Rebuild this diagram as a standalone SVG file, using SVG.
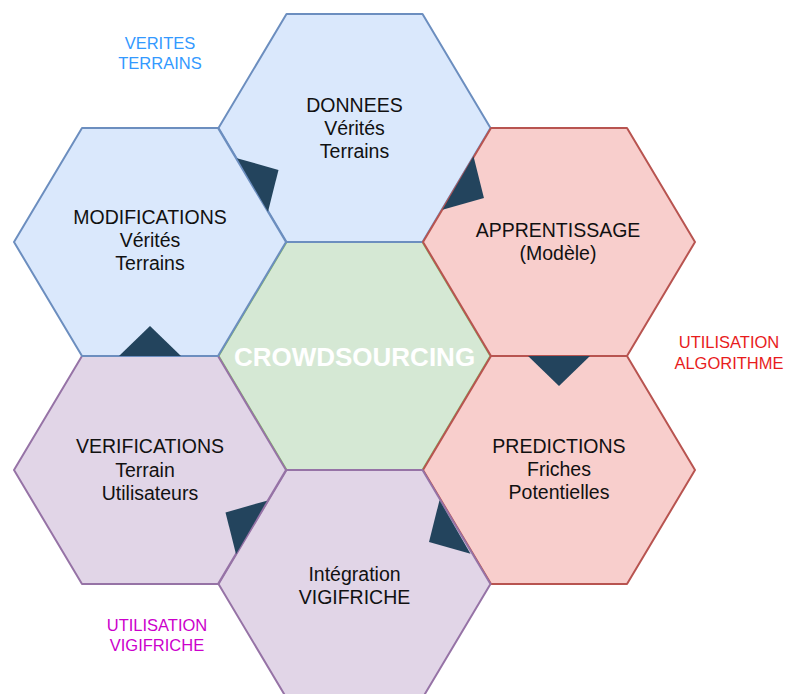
<svg xmlns="http://www.w3.org/2000/svg" width="787" height="694" viewBox="0 0 787 694">
  <style>
    .hex { stroke-width: 2; stroke-linejoin: round; }
    .blue { fill: #dae8fc; stroke: #6c8ebf; }
    .red { fill: #f8cecc; stroke: #b85450; }
    .green { fill: #d5e8d4; stroke: #82b366; }
    .purple { fill: #e1d5e7; stroke: #9673a6; }
    .lbl { font-family: "Liberation Sans", Arial, sans-serif; font-size: 19.5px; fill: #111; text-anchor: middle; }
    .core { font-family: "Liberation Sans", Arial, sans-serif; font-size: 26px; font-weight: bold; fill: #ffffff; text-anchor: middle; }
    .note { font-family: "Liberation Sans", Arial, sans-serif; font-size: 16.5px; text-anchor: middle; }
    .arrow { fill: #23445d; }
  </style>
  <defs>
    <!-- flat-top hexagon, centred on the origin -->
    <polygon id="hexShape" points="-136,0 -68,-114 68,-114 136,0 68,114 -68,114"/>
    <!-- flow wedge: base on a shared edge, tip pointing into the next cell -->
    <polygon id="wedge" points="-31,0 31,0 0,-30"/>
  </defs>

  <rect width="787" height="694" fill="#ffffff"/>

  <!-- centre cell -->
  <g id="crowdsourcing">
    <use href="#hexShape" class="hex green" transform="translate(354.5,356)"/>
    <text class="core" x="354.5" y="366">CROWDSOURCING</text>
  </g>

  <g id="donnees">
    <use href="#hexShape" class="hex blue" transform="translate(354.5,128)"/>
    <text class="lbl" x="354.5" y="112">DONNEES</text>
    <text class="lbl" x="354.5" y="135">Vérités</text>
    <text class="lbl" x="354.5" y="158">Terrains</text>
  </g>

  <g id="apprentissage">
    <use href="#hexShape" class="hex red" transform="translate(559,242)"/>
    <text class="lbl" x="558" y="237">APPRENTISSAGE</text>
    <text class="lbl" x="558" y="260">(Modèle)</text>
  </g>

  <g id="predictions">
    <use href="#hexShape" class="hex red" transform="translate(559,470)"/>
    <text class="lbl" x="559" y="453">PREDICTIONS</text>
    <text class="lbl" x="559" y="476">Friches</text>
    <text class="lbl" x="559" y="499">Potentielles</text>
  </g>

  <g id="integration">
    <use href="#hexShape" class="hex purple" transform="translate(354.5,584)"/>
    <text class="lbl" x="354.5" y="581">Intégration</text>
    <text class="lbl" x="354.5" y="604">VIGIFRICHE</text>
  </g>

  <g id="verifications">
    <use href="#hexShape" class="hex purple" transform="translate(150,470)"/>
    <text class="lbl" x="150" y="453">VERIFICATIONS</text>
    <text class="lbl" x="145" y="477">Terrain</text>
    <text class="lbl" x="150" y="500">Utilisateurs</text>
  </g>

  <g id="modifications">
    <use href="#hexShape" class="hex blue" transform="translate(150,242)"/>
    <text class="lbl" x="150" y="224">MODIFICATIONS</text>
    <text class="lbl" x="150" y="247">Vérités</text>
    <text class="lbl" x="150" y="270">Terrains</text>
  </g>

  <!-- cycle wedges between neighbouring cells -->
  <g id="connectors">
    <use href="#wedge" class="arrow" transform="translate(252.5,185) rotate(60)"/>
    <use href="#wedge" class="arrow" transform="translate(458,183) rotate(120)"/>
    <use href="#wedge" class="arrow" transform="translate(559,356) rotate(180)"/>
    <use href="#wedge" class="arrow" transform="translate(455,527) rotate(240)"/>
    <use href="#wedge" class="arrow" transform="translate(251.5,527.5) rotate(300)"/>
    <use href="#wedge" class="arrow" transform="translate(150,356)"/>
  </g>

  <!-- side captions -->
  <g id="caption-verites">
    <text class="note" x="160" y="49" fill="#3399ff">VERITES</text>
    <text class="note" x="160" y="69" fill="#3399ff">TERRAINS</text>
  </g>
  <g id="caption-algorithme">
    <text class="note" x="729" y="348" fill="#e81c1c">UTILISATION</text>
    <text class="note" x="729" y="369" fill="#e81c1c">ALGORITHME</text>
  </g>
  <g id="caption-vigifriche">
    <text class="note" x="157" y="631" fill="#cc00cc">UTILISATION</text>
    <text class="note" x="157" y="651" fill="#cc00cc">VIGIFRICHE</text>
  </g>
</svg>
